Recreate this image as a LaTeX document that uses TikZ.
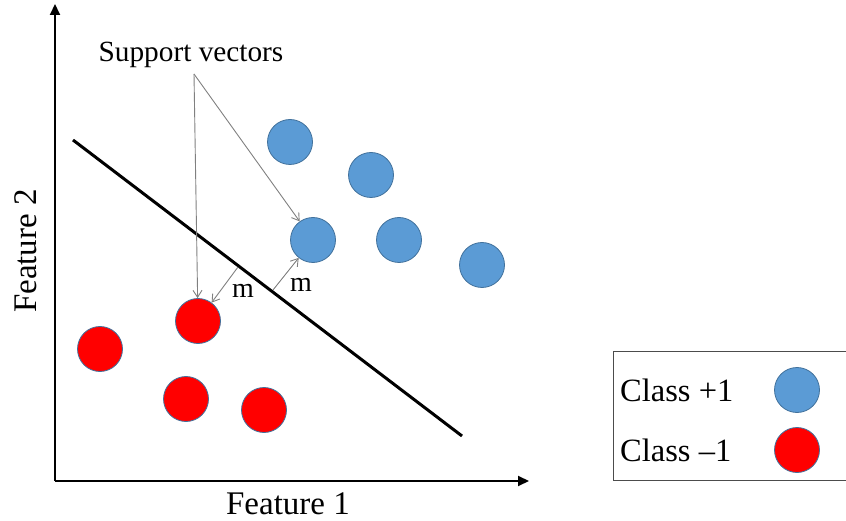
\documentclass[tikz,border=0pt]{standalone}
\usepackage{fontspec}
\setmainfont{Liberation Serif}
\usetikzlibrary{arrows.meta}
\definecolor{posfill}{HTML}{5B9BD5}
\definecolor{posedge}{HTML}{41719C}
\definecolor{negfill}{HTML}{FF0000}
\definecolor{pointer}{HTML}{808080}
\tikzset{
  axisline/.style={line width=2pt,-{Triangle[length=11pt,width=10pt]}},
  plusdot/.style={circle,minimum size=45pt,inner sep=0pt,fill=posfill,draw=posedge,line width=0.8pt},
  minusdot/.style={circle,minimum size=45pt,inner sep=0pt,fill=negfill,draw=posedge,line width=0.8pt},
  ptr/.style={draw=pointer,line width=0.9pt,-{Straight Barb[length=7pt,width=9pt]}},
  lbl/.style={inner sep=0pt,font=\fontsize{33}{38}\selectfont},
  smalltext/.style={inner sep=0pt,font=\fontsize{28}{34}\selectfont},
}
\begin{document}
\begin{tikzpicture}[x=1pt,y=-1pt]
\useasboundingbox (0,0) rectangle (846,521);
% axes
\coordinate (o) at (55,481);
\coordinate (ytop) at (55,4);
\coordinate (xend) at (529,481);
\draw[axisline] (o) -- (ytop);
\draw[axisline] (o) -- (xend);
\node[lbl] (xl) at (288,504) {Feature 1};
\node[lbl,rotate=90] (yl) at (26,251) {Feature 2};
% separating line
\coordinate (h1) at (73,140);
\coordinate (h2) at (462,436);
\draw[line width=3pt] (h1) -- (h2);
% class +1 points
\node[plusdot] (b1) at (290,142) {};
\node[plusdot] (b2) at (371,175) {};
\node[plusdot] (b3) at (313,240) {};
\node[plusdot] (b4) at (399,240) {};
\node[plusdot] (b5) at (482,265) {};
% class -1 points
\node[minusdot] (r1) at (100,349) {};
\node[minusdot] (r2) at (198,321) {};
\node[minusdot] (r3) at (186,399) {};
\node[minusdot] (r4) at (264,410) {};
% support vector callout
\node[smalltext,font=\fontsize{29.3}{34}\selectfont] (sv) at (191,55) {Support vectors};
\coordinate (svp) at (194,74);
\draw[ptr] (svp) -- (r2);
\draw[ptr] (svp) -- (b3);
% margins
\coordinate (m1) at (238,267);
\coordinate (m2) at (273,290);
\draw[ptr] (m1) -- (r2);
\draw[ptr] (m2) -- (b3);
\node[smalltext] (ml1) at (243,291) {m};
\node[smalltext] (ml2) at (301,285) {m};
% legend
\draw[draw=black!70,line width=1pt] (613,351) -- (613,480) -- (860,480) (613,351) -- (860,351);
\node[anchor=west,inner sep=0pt,font=\fontsize{32.5}{38}\selectfont] (c1) at (620,390) {Class +1};
\node[anchor=west,inner sep=0pt,font=\fontsize{32.5}{38}\selectfont] (c2) at (620,450) {Class –1};
\node[plusdot] (lb) at (797,390) {};
\node[minusdot] (lr) at (797,450) {};
\end{tikzpicture}
\end{document}
